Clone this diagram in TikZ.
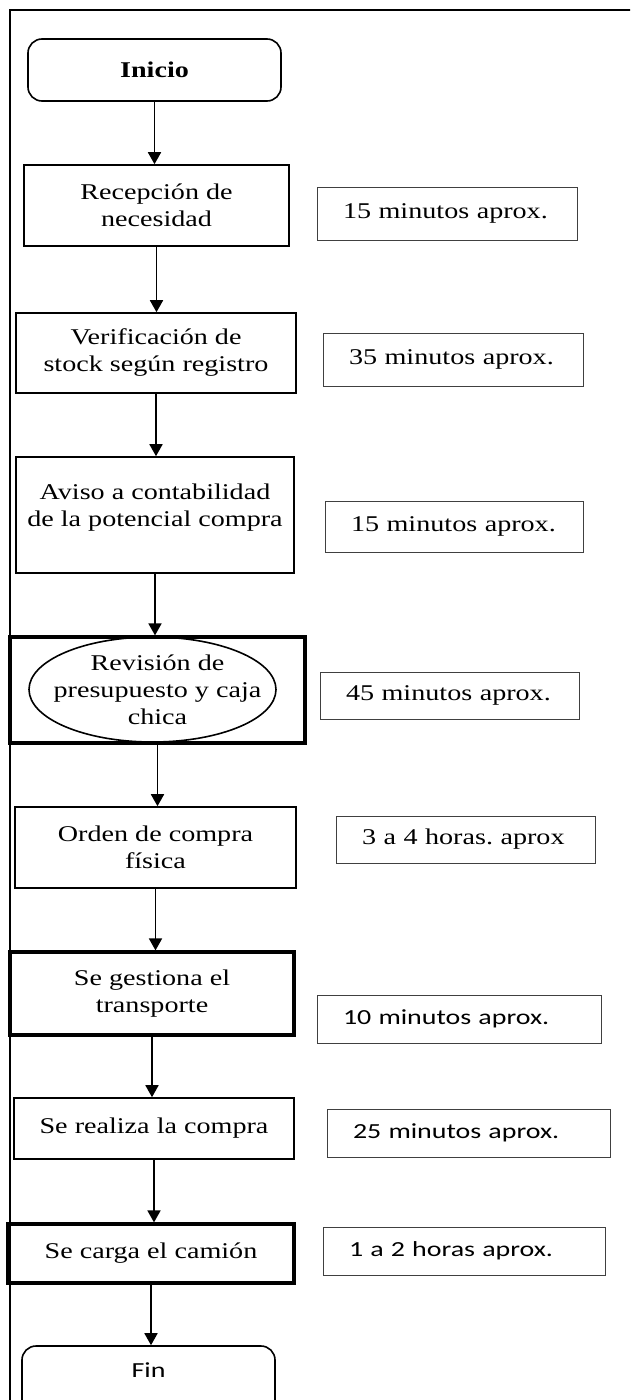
\documentclass[tikz,border=0pt]{standalone}
\usepackage{fontspec}
\setmainfont{Liberation Serif}[FakeStretch=1.25]
\newfontfamily\calibri{Carlito}[FakeStretch=1.3]
\usetikzlibrary{arrows.meta,shapes.geometric}

\begin{document}
\begin{tikzpicture}[x=1pt, y=-1pt,
	paso/.style={draw, line width=1.6pt, align=center, inner sep=0pt, font=\fontsize{22.5}{27}\selectfont},
	grueso/.style={paso, line width=3.2pt},
	tiempo/.style={draw=black!75, line width=1pt, align=left, inner xsep=26pt, inner ysep=0pt, font=\fontsize{22.5}{27}\selectfont},
	tiempocal/.style={tiempo, font=\calibri\fontsize{21.5}{26}\selectfont},
	flecha/.style={line width=1.8pt, -{Triangle[width=13pt,length=12pt]}}]
		\useasboundingbox (0,0) rectangle (630,1400);
		\clip (0,0) rectangle (630,1400);
		% marco
		\draw[line width=1.6pt] (10,10) rectangle (650,1420);
		
		% pasos del proceso
		\node[paso, rounded corners=14pt, minimum width=253pt, minimum height=62pt] (inicio) at (154.5,70) {\textbf{Inicio}};
		\node[paso, minimum width=265pt, minimum height=81pt] (recepcion) at (156.5,205.5) {Recepción de\\necesidad};
		\node[paso, minimum width=280pt, minimum height=80pt] (verificacion) at (156,353) {Verificación de\\stock según registro};
		\node[paso, minimum width=278pt, minimum height=116pt] (aviso) at (155,515) {Aviso a contabilidad\\de la potencial compra\\[-8pt]\mbox{}};
		\node[paso, ellipse, minimum width=247pt, minimum height=105pt] (revelipse) at (152.5,689.5) {};
		\node[grueso, minimum width=295pt, minimum height=106pt] (revision) at (157.5,690) {Revisión de\\presupuesto y caja\\chica};
		\node[paso, minimum width=281pt, minimum height=81pt] (orden) at (155.5,847.5) {Orden de compra\\física};
		\node[grueso, minimum width=284pt, minimum height=83pt] (transporte) at (152,993.5) {Se gestiona el\\transporte};
		\node[paso, minimum width=280pt, minimum height=61pt] (compra) at (154,1128.5) {Se realiza la compra};
		\node[grueso, minimum width=286pt, minimum height=59pt] (camion) at (151,1253.5) {Se carga el camión};
		\node[paso, rounded corners=14pt, minimum width=253pt, minimum height=70pt, text depth=22.5pt, font=\calibri\fontsize{21.5}{26}\selectfont] (fin) at (148.5,1381) {Fin};
		
		% tiempos
		\node[tiempo, text width=208pt, minimum height=53pt] (t1) at (447,213.5) {15 minutos aprox.};
		\node[tiempo, text width=208pt, minimum height=53pt] (t2) at (453,359.5) {35 minutos aprox.};
		\node[tiempo, text width=206pt, minimum height=51pt] (t3) at (454,526.5) {15 minutos aprox.};
		\node[tiempo, text width=207pt, minimum height=47pt] (t4) at (449.5,695.5) {45 minutos aprox.};
		\node[tiempo, text width=207pt, minimum height=47pt] (t5) at (465.5,839.5) {3 a 4 horas.\ aprox};
		\node[tiempocal, text width=232pt, minimum height=48pt] (t6) at (459,1019) {10 minutos aprox.};
		\node[tiempocal, text width=231pt, minimum height=48pt] (t7) at (468.5,1133) {25 minutos aprox.};
		\node[tiempocal, text width=230pt, minimum height=48pt] (t8) at (464,1251) {1 a 2 horas aprox.};
		
		% flechas
		\draw[flecha] (inicio.south) -- (inicio.south |- recepcion.north);
		\draw[flecha] (recepcion.south) -- (recepcion.south |- verificacion.north);
		\draw[flecha] (verificacion.south) -- (verificacion.south |- aviso.north);
		\draw[flecha] (aviso.south) -- (aviso.south |- revision.north);
		\draw[flecha] (revision.south) -- (revision.south |- orden.north);
		\draw[flecha] (orden.south) -- (orden.south |- transporte.north);
		\draw[flecha] (transporte.south) -- (transporte.south |- compra.north);
		\draw[flecha] (compra.south) -- (compra.south |- camion.north);
		\draw[flecha] (camion.south) -- (camion.south |- fin.north);
	\end{tikzpicture}
\end{document}
